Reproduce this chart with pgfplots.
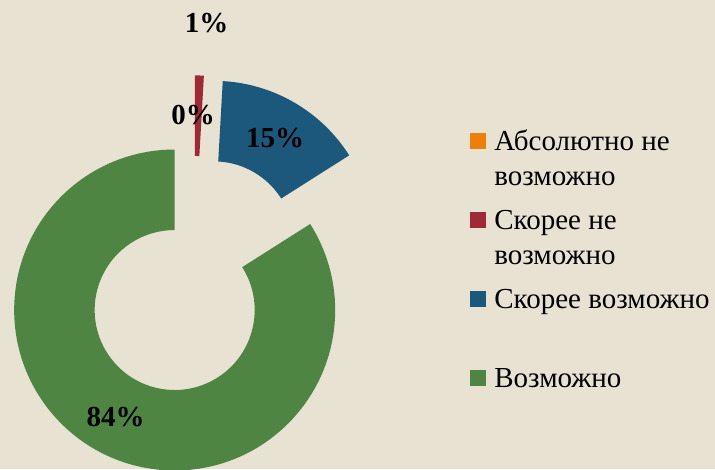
\documentclass[border=0pt]{standalone}
\usepackage{fontspec}
\setmainfont{Liberation Serif}
\usepackage{pgfplots}
\usepackage{pgfplotstable}
\pgfplotsset{compat=1.18}

\definecolor{bg}{HTML}{E7E2D2}
\definecolor{cOrange}{HTML}{F07F09}
\definecolor{cRed}{HTML}{9F2936}
\definecolor{cBlue}{HTML}{1B587C}
\definecolor{cGreen}{HTML}{4E8542}

% shares in percent, clockwise from 12 o'clock
\pgfplotstableread{
name share
orange 0
red 0.9
blue 15.1
green 84.0
}\sharetable

\pgfplotstablegetelem{0}{share}\of\sharetable \let\sA\pgfplotsretval
\pgfplotstablegetelem{1}{share}\of\sharetable \let\sB\pgfplotsretval
\pgfplotstablegetelem{2}{share}\of\sharetable \let\sC\pgfplotsretval
\pgfplotstablegetelem{3}{share}\of\sharetable \let\sD\pgfplotsretval

% boundary angles
\pgfmathsetmacro\aA{90}
\pgfmathsetmacro\aB{\aA-3.6*\sA}
\pgfmathsetmacro\aC{\aB-3.6*\sB}
\pgfmathsetmacro\aD{\aC-3.6*\sC}
\pgfmathsetmacro\aE{\aD-3.6*\sD}

% doughnut geometry (1 axis unit = 1pt)
\def\cx{193.7}\def\cy{193.6}
\def\dd{39.5}   % explosion
\def\rin{80}\def\rout{160.5}

\newcommand\sector[3]{%
  \pgfmathsetmacro\secmid{(#2+#3)/2}%
  \pgfmathsetmacro\sx{\cx+\dd*cos(\secmid)}%
  \pgfmathsetmacro\sy{\cy+\dd*sin(\secmid)}%
  \edef\next{\noexpand\fill[#1] ([shift={(#2:\rin pt)}]axis cs:\sx,\sy)
    arc[start angle=#2,end angle=#3,radius=\rin pt]
    -- ([shift={(#3:\rout pt)}]axis cs:\sx,\sy)
    arc[start angle=#3,end angle=#2,radius=\rout pt] -- cycle;}%
  \next}

\begin{document}
\begin{tikzpicture}
\begin{axis}[
  x=1pt, y=1pt,
  xmin=0, xmax=715, ymin=0, ymax=469,
  hide axis,
  legend style={at={(0.6573,0.7338)}, anchor=north west,
    draw=none, fill=none, inner sep=0pt, outer sep=0pt,
    row sep=49.5pt, column sep=7pt,
    font=\fontsize{29}{34.5}\selectfont,
    cells={anchor=base west, inner sep=0pt, text height=24pt, text depth=0pt}},
]
\fill[bg] (axis cs:0,0) rectangle (axis cs:715,469);

\sector{cRed}{\aB}{\aC}
\sector{cBlue}{\aC}{\aD}
\sector{cGreen}{\aD}{\aE}

\addlegendimage{legend image code/.code={\fill[cOrange] (0pt,3pt) rectangle (15pt,18pt);}}
\addlegendentry{\begin{tabular}[t]{@{}l@{}}Абсолютно не\\возможно\end{tabular}}
\addlegendimage{legend image code/.code={\fill[cRed] (0pt,3pt) rectangle (15pt,18pt);}}
\addlegendentry{\begin{tabular}[t]{@{}l@{}}Скорее не\\возможно\end{tabular}}
\addlegendimage{legend image code/.code={\fill[cBlue] (0pt,3pt) rectangle (15pt,18pt);}}
\addlegendentry{Скорее возможно}
\addlegendimage{legend image code/.code={\fill[cGreen] (0pt,3pt) rectangle (15pt,18pt);}}
\addlegendentry{Возможно}

\begin{scope}[every node/.style={font=\bfseries\fontsize{29}{34}\selectfont, inner sep=0pt}]
\node at (axis cs:206.5,446) {1\%};
\node at (axis cs:193,354) {0\%};
\node at (axis cs:275,331) {15\%};
\node at (axis cs:115.7,52.3) {84\%};
\end{scope}
\end{axis}
\end{tikzpicture}
\end{document}
